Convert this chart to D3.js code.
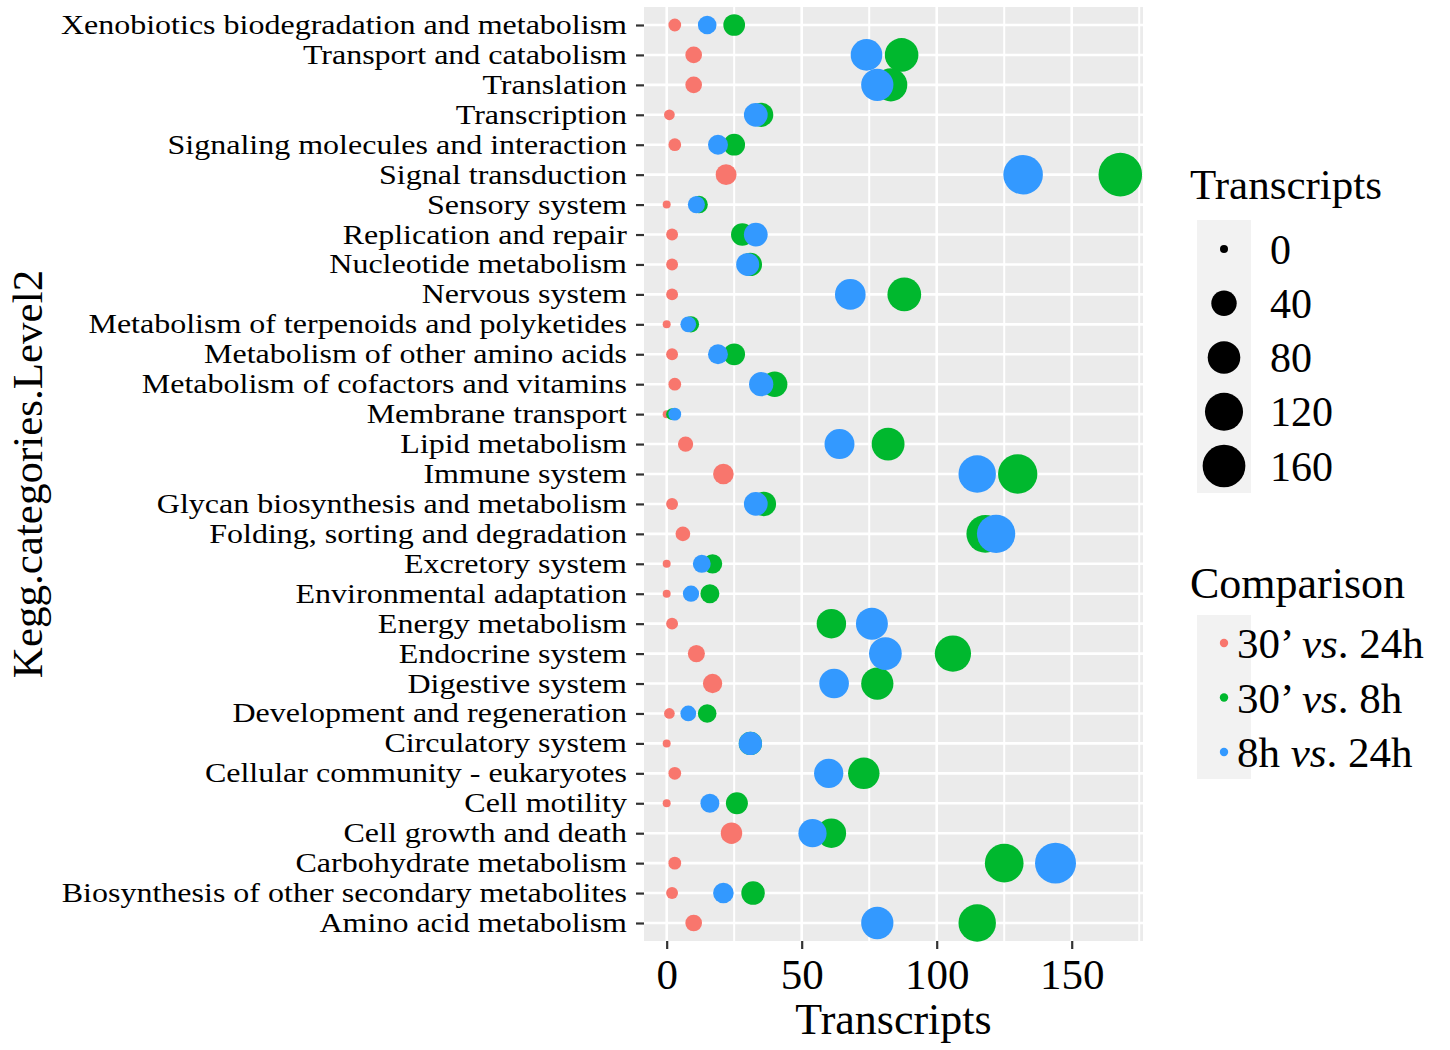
<!DOCTYPE html>
<html>
<head>
<meta charset="utf-8">
<script src="https://cdn.jsdelivr.net/npm/d3@7"></script>
<style>
  body { margin: 0; background: #fff; }
  text { font-family: "Liberation Serif", "Times New Roman", serif; fill: #000; }
</style>
</head>
<body>
<div id="chart"></div>
<script>
// categories, top to bottom as in the figure
var categories = [
  "Xenobiotics biodegradation and metabolism",
  "Transport and catabolism",
  "Translation",
  "Transcription",
  "Signaling molecules and interaction",
  "Signal transduction",
  "Sensory system",
  "Replication and repair",
  "Nucleotide metabolism",
  "Nervous system",
  "Metabolism of terpenoids and polyketides",
  "Metabolism of other amino acids",
  "Metabolism of cofactors and vitamins",
  "Membrane transport",
  "Lipid metabolism",
  "Immune system",
  "Glycan biosynthesis and metabolism",
  "Folding, sorting and degradation",
  "Excretory system",
  "Environmental adaptation",
  "Energy metabolism",
  "Endocrine system",
  "Digestive system",
  "Development and regeneration",
  "Circulatory system",
  "Cellular community - eukaryotes",
  "Cell motility",
  "Cell growth and death",
  "Carbohydrate metabolism",
  "Biosynthesis of other secondary metabolites",
  "Amino acid metabolism"
];

var comparisons = ["30’ vs. 24h", "30’ vs. 8h", "8h vs. 24h"];

// transcripts per category for each comparison
var vals30vs24 = [3, 10, 10, 1, 3, 22, 0, 2, 2, 2, 0, 2, 3, 0, 7, 21, 2, 6, 0, 0, 2, 11, 17, 1, 0, 3, 0, 24, 3, 2, 10];
var vals30vs8 = [25, 87, 83, 35, 25, 168, 12, 28, 31, 88, 9, 25, 40, 2, 82, 130, 36, 118, 17, 16, 61, 106, 78, 15, 31, 73, 26, 61, 125, 32, 115];
var vals8vs24 = [15, 74, 78, 33, 19, 132, 11, 33, 30, 68, 8, 19, 35, 3, 64, 115, 33, 122, 13, 9, 76, 81, 62, 8, 31, 60, 16, 54, 144, 21, 78];

var xTicks = [0, 50, 100, 150];
var xMinor = [25, 75, 125, 175];
var sizeBreaks = [0, 40, 80, 120, 160];

var seriesVals = [vals30vs24, vals30vs8, vals8vs24];
var colors = ["#F8766D", "#00B82E", "#3399FF"];

var svg = d3
  .select("#chart")
  .append("svg")
  .attr("width", 1450)
  .attr("height", 1050);

// panel
var panel = { left: 644, right: 1143, top: 7, bottom: 941 };

var x = d3.scaleLinear().domain([-8.4, 176.4]).range([panel.left, panel.right]);
var y = d3.scalePoint().domain(categories).range([25, 923]);
var r = d3.scaleSqrt().domain([0, 168]).range([4, 21.8]);
var color = d3.scaleOrdinal().domain(comparisons).range(colors);

svg
  .append("rect")
  .attr("x", panel.left)
  .attr("y", panel.top)
  .attr("width", panel.right - panel.left)
  .attr("height", panel.bottom - panel.top)
  .attr("fill", "#EBEBEB");

// grid
svg
  .selectAll(".vminor")
  .data(xMinor)
  .enter()
  .append("line")
  .attr("x1", (d) => x(d))
  .attr("x2", (d) => x(d))
  .attr("y1", panel.top)
  .attr("y2", panel.bottom)
  .attr("stroke", "#fff")
  .attr("stroke-width", 2);

svg
  .selectAll(".vmajor")
  .data(xTicks)
  .enter()
  .append("line")
  .attr("x1", (d) => x(d))
  .attr("x2", (d) => x(d))
  .attr("y1", panel.top)
  .attr("y2", panel.bottom)
  .attr("stroke", "#fff")
  .attr("stroke-width", 2.6);

svg
  .selectAll(".hmajor")
  .data(categories)
  .enter()
  .append("line")
  .attr("x1", panel.left)
  .attr("x2", panel.right)
  .attr("y1", (d) => y(d))
  .attr("y2", (d) => y(d))
  .attr("stroke", "#fff")
  .attr("stroke-width", 2.6);

// points, drawn series by series so blue sits on top
var points = [];
comparisons.forEach(function (c, j) {
  categories.forEach(function (cat, i) {
    points.push({ comp: c, cat: cat, value: seriesVals[j][i] });
  });
});

svg
  .append("g")
  .selectAll("circle")
  .data(points)
  .enter()
  .append("circle")
  .attr("cx", (d) => x(d.value))
  .attr("cy", (d) => y(d.cat))
  .attr("r", (d) => r(d.value))
  .attr("fill", (d) => color(d.comp));

// axes
var xaxis = svg
  .append("g")
  .attr("transform", "translate(0," + panel.bottom + ")")
  .call(d3.axisBottom(x).tickValues(xTicks).tickSize(8).tickPadding(9));

var yaxis = svg
  .append("g")
  .attr("transform", "translate(" + panel.left + ",0)")
  .call(d3.axisLeft(y).tickSize(8).tickPadding(9));

xaxis.select(".domain").remove();
yaxis.select(".domain").remove();
xaxis.selectAll("line").attr("stroke", "#333").attr("stroke-width", 2.2);
yaxis.selectAll("line").attr("stroke", "#333").attr("stroke-width", 2.2);
xaxis.selectAll("text").attr("font-family", null).style("font-size", "43px").attr("fill", "#000");

// category labels: keep the wide look of the figure but a line box that fits the row pitch
yaxis
  .selectAll("text")
  .attr("font-family", null)
  .attr("fill", "#000")
  .each(function () {
    var t = d3.select(this).style("font-size", "32px");
    var w = this.getComputedTextLength();
    t.style("font-size", "26.5px")
      .attr("textLength", w)
      .attr("lengthAdjust", "spacingAndGlyphs");
  });

// axis titles
svg
  .append("text")
  .attr("x", (x(0) + x(168)) / 2)
  .attr("y", 1034)
  .attr("text-anchor", "middle")
  .style("font-size", "44px")
  .text("Transcripts");

svg
  .append("text")
  .attr("transform", "translate(42," + (panel.top + panel.bottom) / 2 + ") rotate(-90)")
  .attr("text-anchor", "middle")
  .style("font-size", "43px")
  .text("Kegg.categories.Level2");

// size legend
svg
  .append("text")
  .attr("x", 1190)
  .attr("y", 199)
  .style("font-size", "43px")
  .text("Transcripts");

svg
  .append("rect")
  .attr("x", 1197)
  .attr("y", 220)
  .attr("width", 54)
  .attr("height", 273)
  .attr("fill", "#F2F2F2");

var sizeKeyY = d3.scalePoint().domain(sizeBreaks).range([249, 466]);

svg
  .selectAll(".sizekey")
  .data(sizeBreaks)
  .enter()
  .append("circle")
  .attr("cx", 1224)
  .attr("cy", (d) => sizeKeyY(d))
  .attr("r", (d) => r(d))
  .attr("fill", "#000");

svg
  .selectAll(".sizelabel")
  .data(sizeBreaks)
  .enter()
  .append("text")
  .attr("x", 1270)
  .attr("y", (d) => sizeKeyY(d))
  .attr("dy", "0.35em")
  .style("font-size", "42px")
  .text((d) => d);

// colour legend
svg
  .append("text")
  .attr("x", 1190)
  .attr("y", 598)
  .style("font-size", "44px")
  .text("Comparison");

svg
  .append("rect")
  .attr("x", 1197)
  .attr("y", 615)
  .attr("width", 54)
  .attr("height", 164)
  .attr("fill", "#F2F2F2");

var colKeyY = d3.scalePoint().domain(comparisons).range([643, 752]);

svg
  .selectAll(".colkey")
  .data(comparisons)
  .enter()
  .append("circle")
  .attr("cx", 1224)
  .attr("cy", (d) => colKeyY(d))
  .attr("r", 4.2)
  .attr("fill", (d) => color(d));

var colLabels = svg
  .selectAll(".collabel")
  .data(comparisons)
  .enter()
  .append("text")
  .attr("x", 1237)
  .attr("y", (d) => colKeyY(d))
  .attr("dy", "0.35em")
  .style("font-size", "43px");

colLabels.each(function (d) {
  var parts = d.split(" vs. ");
  var t = d3.select(this);
  t.append("tspan").text(parts[0] + " ");
  t.append("tspan").style("font-style", "italic").text("vs");
  t.append("tspan").text(". " + parts[1]);
});
</script>
</body>
</html>
